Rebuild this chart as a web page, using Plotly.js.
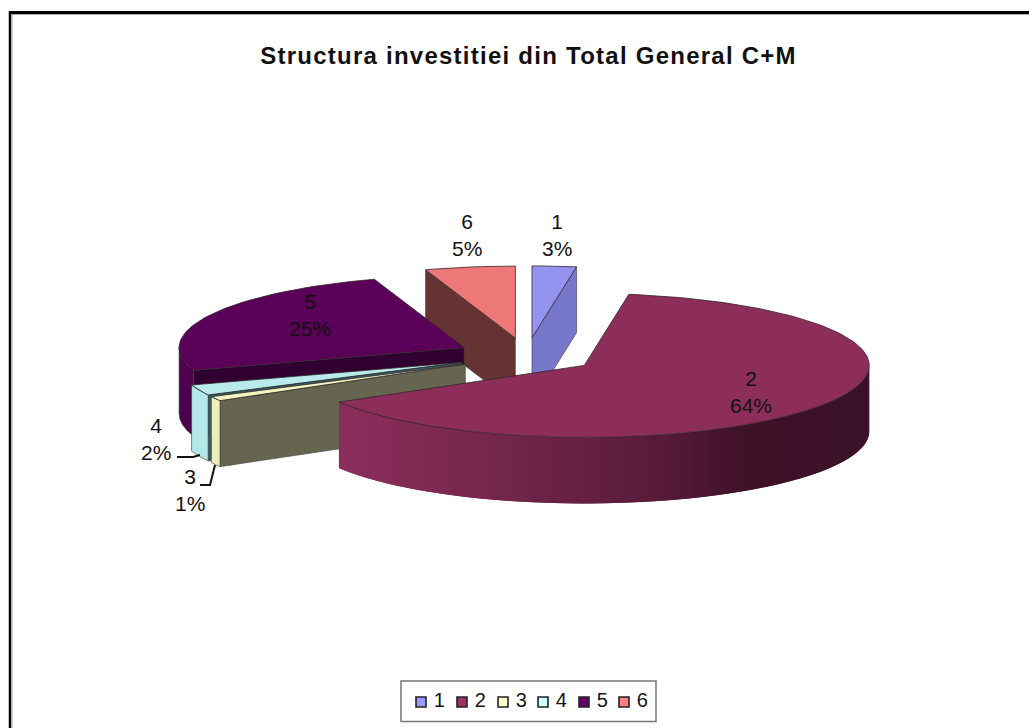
<!DOCTYPE html>
<html><head><meta charset="utf-8">
<script src="https://cdn.plot.ly/plotly-3.0.1.min.js"></script>
<style>html,body{margin:0;padding:0;background:#fff}#c{width:1029px;height:728px}
.annotation[data-index="0"] text{letter-spacing:1.25px}</style>
</head><body><div id="c"></div>
<script>
// ---- data ----
const categories = ['1','2','3','4','5','6'];
const shares = [2.5, 64.0, 1.0, 2.4, 25.0, 5.1];
const chartTitle = 'Structura investitiei din Total General C+M';
// ---- styles ----
const legendColors = ['#9999FF','#993366','#FFFFCC','#CCFFFF','#660066','#FF8080'];
const topColors   = ['#9494F0','#8C2D5A','#F4F4C0','#B8ECEC','#5A0058','#EE7777'];
const wallColors  = ['#7777CC','#5E1E3E','#666650','#2F6060','#2F0030','#663333'];
const outerColors = ['#7777CC','#5E1E3E','#EEEEBB','#B4E8E8','#4D004D','#663333'];
const labelX = [557, 751, 190, 156, 310, 467];
const labelY = [235, 392, 490, 439, 315, 235];
const legendX = [421, 462, 503, 543, 584, 624];
const drawOrder = [5, 0, 4, 3, 2, 1];
const cx = 526.5, cy = 355.5, rx = 285, ry = 72, depth = 66, pull = 0.245;
const font = 'Liberation Sans, Arial, sans-serif';

const rad = d => d * Math.PI / 180;
const px = (o, a) => o[0] + rx * Math.sin(rad(a));
const py = (o, a) => o[1] - ry * Math.cos(rad(a));
function hex(c){return [1,3,5].map(i=>parseInt(c.substr(i,2),16));}
function mix(stops, x){
  for(let i=0;i<stops.length-1;i++){
    if(x<=stops[i+1][0]){
      const t=Math.max(0,(x-stops[i][0])/(stops[i+1][0]-stops[i][0]));
      const a=hex(stops[i][1]),b=hex(stops[i+1][1]);
      return 'rgb('+a.map((v,k)=>Math.round(v+(b[k]-v)*t)).join(',')+')';
    }
  }
  return stops[stops.length-1][1];
}
const wallShade = [[340,'#8C2E5C'],[500,'#73264B'],[640,'#5B1C3C'],[750,'#3E1127'],[868,'#3C1228']];

function poly(xs, ys, fill, line, lw){
  return {type:'scatter',mode:'lines',x:xs,y:ys,fill:'toself',fillcolor:fill,
    line:{color:line||fill,width:lw===undefined?0.6:lw},hoverinfo:'skip',showlegend:false};
}
const total = shares.reduce((a,b)=>a+b,0);
let acc = 0;
const slices = shares.map((v,i)=>{
  const a0 = acc/total*360; acc += v; const a1 = acc/total*360;
  const mid = (a0+a1)/2;
  const o = [cx + pull*rx*Math.sin(rad(mid)), cy - pull*ry*Math.cos(rad(mid))];
  return {i,a0,a1,o};
});
const traces = [];
const edge = '#33262c';
drawOrder.forEach(k=>{
  const s = slices[k], o = s.o;
  // radial walls that face the viewer
  const sides = [];
  if(Math.sin(rad(s.a0))<0) sides.push(s.a0);
  if(Math.sin(rad(s.a1))>0) sides.push(s.a1);
  sides.forEach(a=>{
    const X=[o[0],px(o,a),px(o,a),o[0],o[0]];
    const Y=[o[1],py(o,a),py(o,a)+depth,o[1]+depth,o[1]];
    traces.push(poly(X,Y,wallColors[k],'#3a3a3a',0.6));
  });
  // outer wall (front half only)
  const from = Math.max(s.a0,90), to = Math.min(s.a1,270);
  if(from<to){
    if(k===1){
      for(let a=from;a<to;a+=1.5){
        const b=Math.min(a+3,to);
        const col=mix(wallShade,px(o,a+0.75));
        const X=[],Y=[];
        for(let t=0;t<=4;t++){const q=a+(b-a)*t/4;X.push(px(o,q));Y.push(py(o,q));}
        for(let t=4;t>=0;t--){const q=a+(b-a)*t/4;X.push(px(o,q));Y.push(py(o,q)+depth);}
        X.push(X[0]);Y.push(Y[0]);
        traces.push(poly(X,Y,col,col,0));
      }
    } else {
      const X=[],Y=[];
      for(let j=0;j<=40;j++){const a=from+(to-from)*j/40;X.push(px(o,a));Y.push(py(o,a));}
      for(let j=40;j>=0;j--){const a=from+(to-from)*j/40;X.push(px(o,a));Y.push(py(o,a)+depth);}
      X.push(X[0]);Y.push(Y[0]);
      traces.push(poly(X,Y,outerColors[k],'#3a3a3a',0.6));
    }
  }
  // top face
  const X=[o[0]],Y=[o[1]];
  const n=Math.max(6,Math.ceil((s.a1-s.a0)/1.5));
  for(let j=0;j<=n;j++){const a=s.a0+(s.a1-s.a0)*j/n;X.push(px(o,a));Y.push(py(o,a));}
  X.push(o[0]);Y.push(o[1]);
  traces.push(poly(X,Y,topColors[k],edge,0.8));
});
// leader lines
traces.push({type:'scatter',mode:'lines',x:[177,193,200],y:[457,457,455],line:{color:'#111',width:2},hoverinfo:'skip',showlegend:false});
traces.push({type:'scatter',mode:'lines',x:[200,210,215],y:[485,485,465],line:{color:'#111',width:2},hoverinfo:'skip',showlegend:false});
// legend entries
categories.forEach((c,i)=>traces.push({type:'scatter',mode:'markers+text',x:[legendX[i]],y:[702],name:c,
  text:['\u00A0'+c],textposition:'middle right',textfont:{family:font,size:20,color:'#151515'},
  marker:{symbol:'square',size:10,color:legendColors[i],line:{color:'#222',width:1.6}},hoverinfo:'skip',showlegend:false}));

const annotations = [{x:528,y:55,xref:'x',yref:'y',text:'<b>'+chartTitle+'</b>',showarrow:false,
  font:{family:font,size:24,color:'#111'}}];
categories.forEach((c,i)=>annotations.push({x:labelX[i],y:labelY[i],xref:'x',yref:'y',showarrow:false,
  text:c+'<br>'+Math.round(shares[i])+'%',align:'center',
  font:{family:font,size:21,color:'#111'}}));

const layout = {
  width:1029,height:728,margin:{l:0,r:0,t:0,b:0},paper_bgcolor:'#fff',plot_bgcolor:'#fff',
  xaxis:{range:[0,1029],visible:false,fixedrange:true},
  yaxis:{range:[728,0],visible:false,fixedrange:true},
  showlegend:false,
  annotations,
  shapes:[
    {type:'line',x0:10,x1:10,y0:11,y1:728,line:{color:'#000',width:2.5}},
    {type:'line',x0:9,x1:1029,y0:12.5,y1:12.5,line:{color:'#000',width:3}},
    {type:'line',x0:12,x1:12,y0:14,y1:728,line:{color:'#b5b5b5',width:1.5}},
    {type:'line',x0:12,x1:1029,y0:14.5,y1:14.5,line:{color:'#aaa',width:1}},
    {type:'rect',x0:401,x1:656,y0:681,y1:721.5,layer:'below',fillcolor:'#fff',line:{color:'#777',width:1.5}}
  ]
};
Plotly.newPlot('c',traces,layout,{displayModeBar:false,staticPlot:true});
</script></body></html>
